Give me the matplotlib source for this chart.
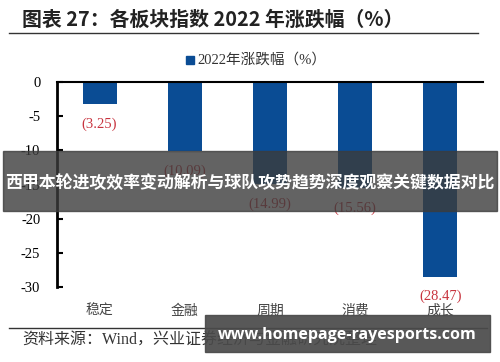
import matplotlib
matplotlib.use("Agg")
import matplotlib.pyplot as plt
from matplotlib.patches import Rectangle
from matplotlib.lines import Line2D

categories = ["稳定", "金融", "周期", "消费", "成长"]
values = [-3.25, -10.09, -14.99, -15.56, -28.47]
value_labels = ["(3.25)", "(10.09)", "(14.99)", "(15.56)", "(28.47)"]
yticks = [0, -5, -10, -15, -20, -25, -30]

title = "图表 27：各板块指数 2022 年涨跌幅（%）"
legend_label = "2022年涨跌幅（%）"
source = "资料来源：Wind，兴业证券经济与金融研究院整理"
banner = "西甲本轮进攻效率变动解析与球队攻势趋势深度观察关键数据对比"
watermark = "www.homepage-rayesports.com"

serif = ["Liberation Serif", "Noto Sans CJK SC"]
cjk = ["Noto Sans CJK SC", "DejaVu Sans"]
plt.rcParams["font.family"] = serif

W, H = 500, 362
fig = plt.figure(figsize=(5, 3.62), dpi=100)

def fx(px):
    return px / W

def fy(py):
    return 1 - py / H

bar_color = "#0A4C94"
lab_color = "#C8343F"

ax = fig.add_axes([fx(57), fy(287), fx(483) - fx(57), fy(82) - fy(287)])
x = list(range(len(categories)))
ax.bar(x, values, width=0.4, color=bar_color, zorder=2)
ax.set_xlim(-0.5, len(categories) - 0.5)
ax.set_ylim(-30, 0)
ax.set_yticks(yticks)
ax.set_yticklabels([str(v) for v in yticks], fontsize=10.5, family="Liberation Serif")
ax.tick_params(axis="y", direction="in", length=4, width=1.5, pad=12)
ax.set_xticks(x)
ax.set_xticklabels(categories, fontsize=10, family=cjk, color="#444444")
ax.tick_params(axis="x", length=0, pad=12)
for s in ["right", "bottom"]:
    ax.spines[s].set_visible(False)
ax.spines["left"].set_linewidth(2)
ax.spines["top"].set_linewidth(1.5)

for xi, v, lab in zip(x, values, value_labels):
    ax.annotate(lab, (xi, v), xytext=(0, -20), textcoords="offset pixels",
                ha="center", va="center", fontsize=10.5, color=lab_color,
                family="Liberation Serif", annotation_clip=False)

# title
fig.text(fx(22), fy(19), title, fontsize=14.3, fontweight="bold", family=cjk,
         ha="left", va="center", color="#222222")
fig.add_artist(Line2D([fx(9), fx(478)], [fy(33), fy(33)], color="#333333", lw=1))

# legend
fig.add_artist(Rectangle((fx(186), fy(64)), fx(8), 8 / H, color=bar_color))
fig.text(fx(197), fy(60), legend_label, fontsize=10.5, family=serif, ha="left",
         va="center", color="#333333")

# source
fig.add_artist(Line2D([fx(9), fx(487)], [fy(328), fy(328)], color="#333333", lw=1))
fig.text(fx(22), fy(341), source, fontsize=11.5, family=serif, ha="left",
         va="center", color="#333333")

# banner overlay
fig.add_artist(Rectangle((fx(3), fy(211)), fx(494), 60 / H, color="#3c3c3c",
                         alpha=0.8, zorder=10))
fig.text(0.5, fy(183), banner, fontsize=12.2, fontweight="bold", family=cjk,
         ha="center", va="center", color="white", zorder=11)

# watermark overlay
fig.add_artist(Rectangle((fx(205), fy(352)), fx(285), 37 / H, color="#4a4a4a",
                         alpha=0.92, zorder=10))
fig.text(fx(347), fy(335), watermark, fontsize=11.5, fontweight="bold",
         family=["Open Sans", "DejaVu Sans"], ha="center", va="center",
         color="white", zorder=11)

fig.savefig("out.png", dpi=100)
